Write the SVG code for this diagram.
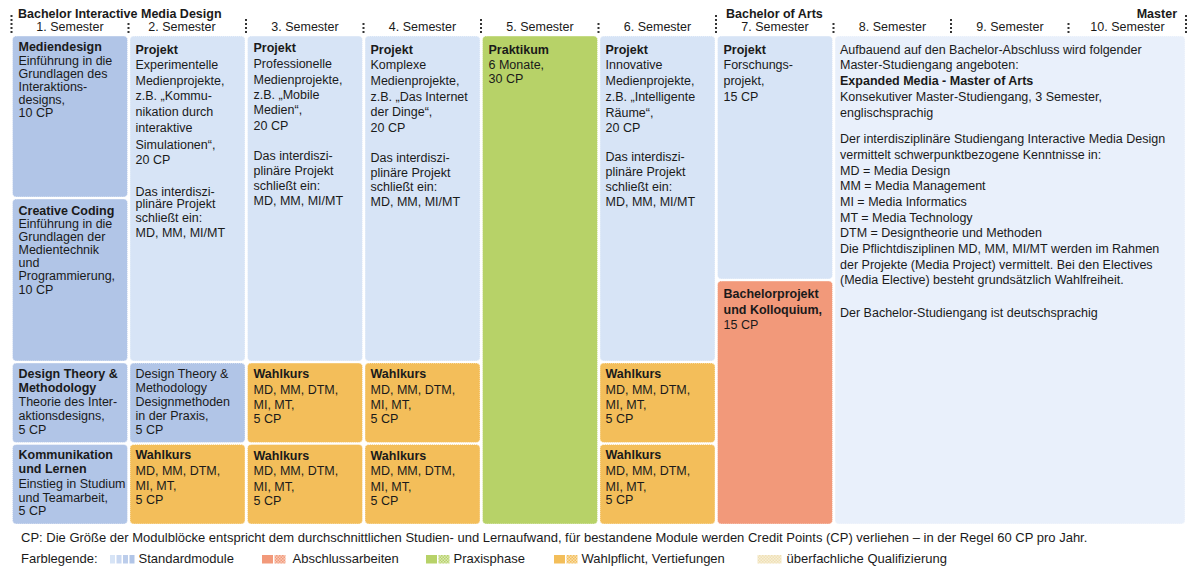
<svg xmlns="http://www.w3.org/2000/svg" width="1200" height="574" viewBox="0 0 1200 574">
<style>
.t{font-family:"Liberation Sans",Arial,sans-serif;font-size:12.5px;fill:#1a1a1a}
.l{font-size:13px}
.b{font-weight:bold}
.c{text-anchor:middle}
.e{text-anchor:end}
.blk{stroke:#ffffff;stroke-width:1;stroke-dasharray:1 1;stroke-opacity:0.8}
.std{fill:#b1c5e7}
.prj{fill:#d7e4f6}
.mst{fill:#e9f0fb}
.grn{fill:#b7d268}
.org{fill:#f3be5a}
.sal{fill:#f2997a}
.sepL{stroke:#333;stroke-width:2;stroke-dasharray:2 2}
</style>
<defs>
<pattern id="pSal" width="3" height="3" patternUnits="userSpaceOnUse"><rect width="3" height="3" fill="#f8c9b6"/><rect width="1.5" height="1.5" fill="#f2997a"/><rect x="1.5" y="1.5" width="1.5" height="1.5" fill="#f2997a"/></pattern>
<pattern id="pGrn" width="3" height="3" patternUnits="userSpaceOnUse"><rect width="3" height="3" fill="#dbe8b5"/><rect width="1.5" height="1.5" fill="#b7d268"/><rect x="1.5" y="1.5" width="1.5" height="1.5" fill="#b7d268"/></pattern>
<pattern id="pOrg" width="3" height="3" patternUnits="userSpaceOnUse"><rect width="3" height="3" fill="#f9deab"/><rect width="1.5" height="1.5" fill="#f3be5a"/><rect x="1.5" y="1.5" width="1.5" height="1.5" fill="#f3be5a"/></pattern>
<pattern id="pBei" width="3" height="3" patternUnits="userSpaceOnUse"><rect width="3" height="3" fill="#f7eed6"/><rect width="1.5" height="1.5" fill="#efe0b4"/><rect x="1.5" y="1.5" width="1.5" height="1.5" fill="#efe0b4"/></pattern>
</defs>
<rect width="1200" height="574" fill="#ffffff"/>

<g id="header">
<text class="t b" x="18" y="17.5">Bachelor Interactive Media Design</text>
<text class="t b" x="726" y="17.5">Bachelor of Arts</text>
<text class="t b e" x="1177" y="17.5">Master</text>
<text class="t c" x="70" y="30.5">1. Semester</text>
<text class="t c" x="182" y="30.5">2. Semester</text>
<text class="t c" x="305" y="30.5">3. Semester</text>
<text class="t c" x="422.5" y="30.5">4. Semester</text>
<text class="t c" x="540" y="30.5">5. Semester</text>
<text class="t c" x="657.5" y="30.5">6. Semester</text>
<text class="t c" x="775" y="30.5">7. Semester</text>
<text class="t c" x="892.5" y="30.5">8. Semester</text>
<text class="t c" x="1010" y="30.5">9. Semester</text>
<text class="t c" x="1127.5" y="30.5">10. Semester</text>
<g id="separators">
<line class="sepL" x1="11.5" y1="15" x2="11.5" y2="34"/>
<line class="sepL" x1="128.5" y1="23" x2="128.5" y2="34"/>
<line class="sepL" x1="246" y1="19" x2="246" y2="34"/>
<line class="sepL" x1="363.5" y1="23" x2="363.5" y2="34"/>
<line class="sepL" x1="481" y1="19" x2="481" y2="34"/>
<line class="sepL" x1="598.5" y1="23" x2="598.5" y2="34"/>
<line class="sepL" x1="716" y1="15" x2="716" y2="34"/>
<line class="sepL" x1="833.5" y1="23" x2="833.5" y2="34"/>
<line class="sepL" x1="951" y1="19" x2="951" y2="34"/>
<line class="sepL" x1="1068.5" y1="23" x2="1068.5" y2="34"/>
<line class="sepL" x1="1186" y1="15" x2="1186" y2="34"/>
</g>
</g>

<g id="connectors"></g>

<!-- Column 1 -->
<g id="mediendesign">
<rect class="blk std" x="12.5" y="36" width="115" height="161" rx="4"/>
<text class="t" x="18.5"><tspan class="b" y="51">Mediendesign</tspan><tspan x="18.5" y="65">Einführung in die</tspan><tspan x="18.5" y="78">Grundlagen des</tspan><tspan x="18.5" y="91">Interaktions-</tspan><tspan x="18.5" y="104">designs,</tspan><tspan x="18.5" y="117">10 CP</tspan></text>
</g>
<g id="creative-coding">
<rect class="blk std" x="12.5" y="199" width="115" height="162" rx="4"/>
<text class="t" x="18.5"><tspan class="b" y="215">Creative Coding</tspan><tspan x="18.5" y="228">Einführung in die</tspan><tspan x="18.5" y="241">Grundlagen der</tspan><tspan x="18.5" y="254">Medientechnik</tspan><tspan x="18.5" y="267">und</tspan><tspan x="18.5" y="280">Programmierung,</tspan><tspan x="18.5" y="293.5">10 CP</tspan></text>
</g>
<g id="design-theory-1">
<rect class="blk std" x="12.5" y="363" width="115" height="79.5" rx="4"/>
<text class="t" x="18.5"><tspan class="b" y="377.5">Design Theory &amp;</tspan><tspan class="b" x="18.5" y="392">Methodology</tspan><tspan x="18.5" y="406">Theorie des Inter-</tspan><tspan x="18.5" y="420">aktionsdesigns,</tspan><tspan x="18.5" y="433.5">5 CP</tspan></text>
</g>
<g id="kommunikation">
<rect class="blk std" x="12.5" y="444.5" width="115" height="79.5" rx="4"/>
<text class="t" x="18.5"><tspan class="b" y="459">Kommunikation</tspan><tspan class="b" x="18.5" y="473">und Lernen</tspan><tspan x="18.5" y="487.5">Einstieg in Studium</tspan><tspan x="18.5" y="501.5">und Teamarbeit,</tspan><tspan x="18.5" y="515">5 CP</tspan></text>
</g>

<!-- Column 2 -->
<g id="projekt-2">
<rect class="blk prj" x="130" y="36" width="115" height="325" rx="4"/>
<text class="t" x="135.5"><tspan class="b" y="53.5">Projekt</tspan><tspan x="135.5" y="69">Experimentelle</tspan><tspan x="135.5" y="84.5">Medienprojekte,</tspan><tspan x="135.5" y="100">z.B. „Kommu-</tspan><tspan x="135.5" y="116">nikation durch</tspan><tspan x="135.5" y="132">interaktive</tspan><tspan x="135.5" y="148.5">Simulationen“,</tspan><tspan x="135.5" y="163.5">20 CP</tspan><tspan x="135.5" y="196">Das interdiszi-</tspan><tspan x="135.5" y="208">plinäre Projekt</tspan><tspan x="135.5" y="222">schließt ein:</tspan><tspan x="135.5" y="236.5">MD, MM, MI/MT</tspan></text>
</g>
<g id="design-theory-2">
<rect class="blk std" x="130" y="363" width="115" height="79.5" rx="4"/>
<text class="t" x="135.5"><tspan y="377.5">Design Theory &amp;</tspan><tspan x="135.5" y="392">Methodology</tspan><tspan x="135.5" y="406">Designmethoden</tspan><tspan x="135.5" y="420">in der Praxis,</tspan><tspan x="135.5" y="433.5">5 CP</tspan></text>
</g>
<g id="wahlkurs-2">
<rect class="blk org" x="130" y="444.5" width="115" height="79.5" rx="4"/>
<text class="t" x="135.5"><tspan class="b" y="459">Wahlkurs</tspan><tspan x="135.5" y="475">MD, MM, DTM,</tspan><tspan x="135.5" y="490">MI, MT,</tspan><tspan x="135.5" y="504">5 CP</tspan></text>
</g>

<!-- Column 3 -->
<g id="projekt-3">
<rect class="blk prj" x="247.5" y="36" width="115" height="325" rx="4"/>
<text class="t" x="253.5"><tspan class="b" y="51.5">Projekt</tspan><tspan x="253.5" y="67.5">Professionelle</tspan><tspan x="253.5" y="83.5">Medienprojekte,</tspan><tspan x="253.5" y="98.5">z.B. „Mobile</tspan><tspan x="253.5" y="114">Medien“,</tspan><tspan x="253.5" y="130">20 CP</tspan><tspan x="253.5" y="160">Das interdiszi-</tspan><tspan x="253.5" y="174.5">plinäre Projekt</tspan><tspan x="253.5" y="190">schließt ein:</tspan><tspan x="253.5" y="205">MD, MM, MI/MT</tspan></text>
</g>
<g id="wahlkurs-3a">
<rect class="blk org" x="247.5" y="363" width="115" height="79.5" rx="4"/>
<text class="t" x="253.5"><tspan class="b" y="377.5">Wahlkurs</tspan><tspan x="253.5" y="393.5">MD, MM, DTM,</tspan><tspan x="253.5" y="409">MI, MT,</tspan><tspan x="253.5" y="422.5">5 CP</tspan></text>
</g>
<g id="wahlkurs-3b">
<rect class="blk org" x="247.5" y="444.5" width="115" height="79.5" rx="4"/>
<text class="t" x="253.5"><tspan class="b" y="459.5">Wahlkurs</tspan><tspan x="253.5" y="474.5">MD, MM, DTM,</tspan><tspan x="253.5" y="490.5">MI, MT,</tspan><tspan x="253.5" y="504.5">5 CP</tspan></text>
</g>

<!-- Column 4 -->
<g id="projekt-4">
<rect class="blk prj" x="365" y="36" width="115" height="325" rx="4"/>
<text class="t" x="370.5"><tspan class="b" y="53.5">Projekt</tspan><tspan x="370.5" y="69">Komplexe</tspan><tspan x="370.5" y="85">Medienprojekte,</tspan><tspan x="370.5" y="100.5">z.B. „Das Internet</tspan><tspan x="370.5" y="116">der Dinge“,</tspan><tspan x="370.5" y="131.5">20 CP</tspan><tspan x="370.5" y="161.5">Das interdiszi-</tspan><tspan x="370.5" y="176.5">plinäre Projekt</tspan><tspan x="370.5" y="190.5">schließt ein:</tspan><tspan x="370.5" y="205.5">MD, MM, MI/MT</tspan></text>
</g>
<g id="wahlkurs-4a">
<rect class="blk org" x="365" y="363" width="115" height="79.5" rx="4"/>
<text class="t" x="370.5"><tspan class="b" y="377.5">Wahlkurs</tspan><tspan x="370.5" y="393.5">MD, MM, DTM,</tspan><tspan x="370.5" y="409">MI, MT,</tspan><tspan x="370.5" y="422.5">5 CP</tspan></text>
</g>
<g id="wahlkurs-4b">
<rect class="blk org" x="365" y="444.5" width="115" height="79.5" rx="4"/>
<text class="t" x="370.5"><tspan class="b" y="459.5">Wahlkurs</tspan><tspan x="370.5" y="474.5">MD, MM, DTM,</tspan><tspan x="370.5" y="490.5">MI, MT,</tspan><tspan x="370.5" y="504.5">5 CP</tspan></text>
</g>

<!-- Column 5 -->
<g id="praktikum">
<rect class="blk grn" x="482.5" y="36" width="115" height="488" rx="4"/>
<text class="t" x="488.5"><tspan class="b" y="53.5">Praktikum</tspan><tspan x="488.5" y="68.5">6 Monate,</tspan><tspan x="488.5" y="82.5">30 CP</tspan></text>
</g>

<!-- Column 6 -->
<g id="projekt-6">
<rect class="blk prj" x="600" y="36" width="115" height="325" rx="4"/>
<text class="t" x="605.5"><tspan class="b" y="53.5">Projekt</tspan><tspan x="605.5" y="69">Innovative</tspan><tspan x="605.5" y="85">Medienprojekte,</tspan><tspan x="605.5" y="100.5">z.B. „Intelligente</tspan><tspan x="605.5" y="116.5">Räume“,</tspan><tspan x="605.5" y="131.5">20 CP</tspan><tspan x="605.5" y="160.5">Das interdiszi-</tspan><tspan x="605.5" y="175.5">plinäre Projekt</tspan><tspan x="605.5" y="190.5">schließt ein:</tspan><tspan x="605.5" y="205.5">MD, MM, MI/MT</tspan></text>
</g>
<g id="wahlkurs-6a">
<rect class="blk org" x="600" y="363" width="115" height="79.5" rx="4"/>
<text class="t" x="605.5"><tspan class="b" y="377.5">Wahlkurs</tspan><tspan x="605.5" y="393.5">MD, MM, DTM,</tspan><tspan x="605.5" y="409">MI, MT,</tspan><tspan x="605.5" y="422.5">5 CP</tspan></text>
</g>
<g id="wahlkurs-6b">
<rect class="blk org" x="600" y="444.5" width="115" height="79.5" rx="4"/>
<text class="t" x="605.5"><tspan class="b" y="459">Wahlkurs</tspan><tspan x="605.5" y="475">MD, MM, DTM,</tspan><tspan x="605.5" y="490.5">MI, MT,</tspan><tspan x="605.5" y="504">5 CP</tspan></text>
</g>

<!-- Column 7 -->
<g id="projekt-7">
<rect class="blk prj" x="717.5" y="36" width="115" height="243" rx="4"/>
<text class="t" x="723.5"><tspan class="b" y="53.5">Projekt</tspan><tspan x="723.5" y="69">Forschungs-</tspan><tspan x="723.5" y="84.5">projekt,</tspan><tspan x="723.5" y="100.5">15 CP</tspan></text>
</g>
<g id="bachelorprojekt">
<rect class="blk sal" x="717.5" y="281" width="115" height="243" rx="4"/>
<text class="t" x="723.5"><tspan class="b" y="298">Bachelorprojekt</tspan><tspan class="b" x="723.5" y="314">und Kolloquium,</tspan><tspan x="723.5" y="329">15 CP</tspan></text>
</g>

<!-- Master -->
<g id="master">
<rect class="blk mst" x="835" y="36" width="350" height="488" rx="4"/>
<text class="t" x="840"><tspan y="53.5">Aufbauend auf den Bachelor-Abschluss wird folgender</tspan><tspan x="840" y="69">Master-Studiengang angeboten:</tspan><tspan class="b" x="840" y="84.5">Expanded Media - Master of Arts</tspan><tspan x="840" y="100.5">Konsekutiver Master-Studiengang, 3 Semester,</tspan><tspan x="840" y="116.5">englischsprachig</tspan><tspan x="840" y="143">Der interdisziplinäre Studiengang Interactive Media Design</tspan><tspan x="840" y="158.5">vermittelt schwerpunktbezogene Kenntnisse in:</tspan><tspan x="840" y="174.5">MD = Media Design</tspan><tspan x="840" y="190">MM = Media Management</tspan><tspan x="840" y="205.5">MI = Media Informatics</tspan><tspan x="840" y="221.5">MT = Media Technology</tspan><tspan x="840" y="237">DTM = Designtheorie und Methoden</tspan><tspan x="840" y="253">Die Pflichtdisziplinen MD, MM, MI/MT werden im Rahmen</tspan><tspan x="840" y="268.5">der Projekte (Media Project) vermittelt. Bei den Electives</tspan><tspan x="840" y="284">(Media Elective) besteht grundsätzlich Wahlfreiheit.</tspan><tspan x="840" y="316.5">Der Bachelor-Studiengang ist deutschsprachig</tspan></text>
</g>

<!-- Legend -->
<g id="legend">
<text class="t l" x="21" y="542">CP: Die Größe der Modulblöcke entspricht dem durchschnittlichen Studien- und Lernaufwand, für bestandene Module werden Credit Points (CP) verliehen – in der Regel 60 CP pro Jahr.</text>
<text class="t l" x="21" y="563">Farblegende:</text>
<rect x="110" y="555" width="5" height="8.5" fill="#d7e4f6"/>
<rect x="116.5" y="555" width="5" height="8.5" fill="#c9d8f1"/>
<rect x="123" y="555" width="5" height="8.5" fill="#bccdeb"/>
<rect x="129.5" y="555" width="5" height="8.5" fill="#b1c5e7"/>
<text class="t l" x="138.5" y="563">Standardmodule</text>
<rect x="262" y="555" width="11" height="8.5" class="sal"/>
<rect x="274.5" y="555" width="11" height="8.5" fill="url(#pSal)"/>
<text class="t l" x="292.5" y="563">Abschlussarbeiten</text>
<rect x="426" y="555" width="11" height="8.5" class="grn"/>
<rect x="438.5" y="555" width="11" height="8.5" fill="url(#pGrn)"/>
<text class="t l" x="453.5" y="563">Praxisphase</text>
<rect x="554" y="555" width="11" height="8.5" class="org"/>
<rect x="566.5" y="555" width="11" height="8.5" fill="url(#pOrg)"/>
<text class="t l" x="581.5" y="563">Wahlpflicht, Vertiefungen</text>
<rect x="757.5" y="555" width="24" height="8.5" fill="url(#pBei)"/>
<text class="t l" x="786.5" y="563">überfachliche Qualifizierung</text>
</g>
</svg>
